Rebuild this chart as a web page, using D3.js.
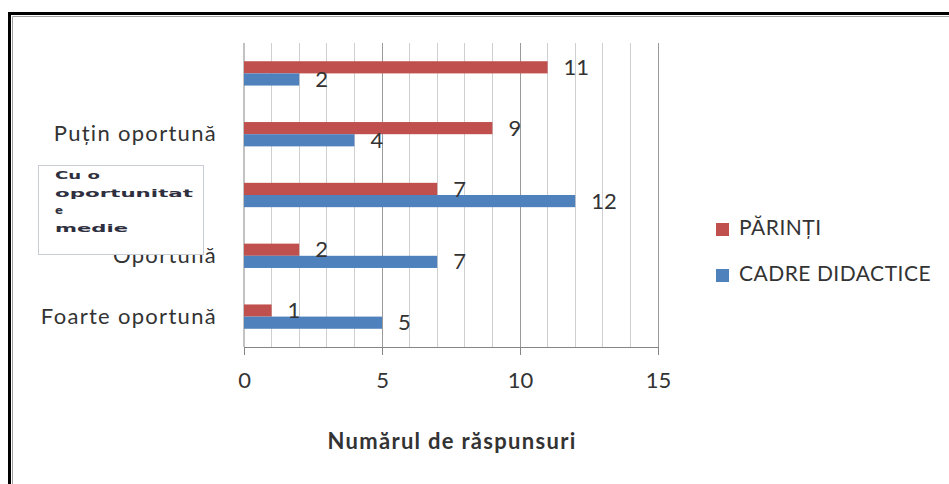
<!DOCTYPE html>
<html><head><meta charset="utf-8">
<script src="https://cdn.jsdelivr.net/npm/d3@7"></script>
<style>
html,body{margin:0;padding:0;background:#fff;}
svg{display:block;}
</style></head>
<body>
<svg id="chart" width="949" height="484"></svg>
<script>
const categories = ["Foarte oportună", "Oportună", "Cu o oportunitate medie", "Puțin oportună", ""];
const parinti = [1, 2, 7, 9, 11];
const cadre = [5, 7, 12, 4, 2];
const seriesNames = ["PĂRINȚI", "CADRE DIDACTICE"];
const xTicks = [0, 5, 10, 15];
const boxLines = ["Cu o", "oportunitat", "e", "medie"];
const boxLineWidths = [45, 138, 8, 73];

(function () {
const colors = ["#C0504D", "#4F81BD"];
const svg = d3.select("#chart");
const font = "Lato, 'Open Sans', sans-serif";
const txt = "#333333";

// frame
svg.append("rect").attr("x", 9.5).attr("y", 13.5).attr("width", 1000).attr("height", 600)
  .attr("fill", "#fff").attr("stroke", "#000").attr("stroke-width", 3);
svg.append("path").attr("d", "M12.5,600 V16.5 H1000").attr("fill", "none").attr("stroke", "#a0a0a0").attr("stroke-width", 1);

const pL = 244, pR = 658, pT = 43, pB = 347;
const x = d3.scaleLinear().domain([0, 15]).range([pL, pR]);
const idx = d3.range(categories.length);
const y = d3.scaleBand().domain(idx.slice().reverse()).range([pT, pB]).paddingInner(0.6).paddingOuter(0.3);
const sub = d3.scaleBand().domain([0, 1]).range([0, y.bandwidth()]);

// gridlines
svg.append("g").selectAll("line").data(d3.range(1, 16)).join("line")
  .attr("x1", d => x(d)).attr("x2", d => x(d)).attr("y1", pT).attr("y2", pB)
  .attr("stroke", d => d % 5 === 0 ? "#9a9a9a" : "#cfcfcf").attr("stroke-width", 1)
  .attr("shape-rendering", "crispEdges");

// x axis
const xAxis = d3.axisBottom(x).tickValues(xTicks).tickSize(8).tickPadding(17);
const xa = svg.append("g").attr("transform", `translate(0,${pB})`).call(xAxis);
xa.select(".domain").attr("stroke", "#868686");
xa.selectAll(".tick line").attr("stroke", "#868686");
xa.selectAll(".tick text").attr("font-family", font).attr("font-size", 22).attr("fill", txt);

// y axis
const yAxis = d3.axisLeft(y).tickSize(0).tickPadding(27).tickFormat(i => i === 2 ? "" : categories[i]);
const ya = svg.append("g").attr("transform", `translate(${pL},0)`).call(yAxis);
ya.select(".domain").attr("stroke", "#868686").attr("d", `M0,${pT}V${pB}`);
ya.selectAll(".tick text").attr("font-family", font).attr("font-size", 22)
  .attr("letter-spacing", 1.3).attr("fill", txt);

// bars
const data = idx.map(i => ({ i, vals: [parinti[i], cadre[i]] }));
const groups = svg.append("g").selectAll("g").data(data).join("g")
  .attr("transform", d => `translate(0,${y(d.i)})`);
groups.selectAll("rect").data(d => d.vals.map((v, s) => ({ v, s }))).join("rect")
  .attr("x", x(0)).attr("y", d => sub(d.s)).attr("width", d => x(d.v) - x(0)).attr("height", sub.bandwidth())
  .attr("fill", d => colors[d.s]);
groups.selectAll("text").data(d => d.vals.map((v, s) => ({ v, s }))).join("text")
  .attr("x", d => x(d.v) + 16).attr("y", d => sub(d.s) + sub.bandwidth() / 2 + 2)
  .attr("dominant-baseline", "middle")
  .attr("font-family", font).attr("font-size", 22).attr("fill", txt)
  .text(d => d.v);

// overlay text box
const box = svg.append("g");
box.append("rect").attr("x", 38.5).attr("y", 165.5).attr("width", 165).attr("height", 89)
  .attr("fill", "#fff").attr("stroke", "#c8ccd4").attr("stroke-width", 1);
box.selectAll("text").data(boxLines).join("text")
  .attr("x", 55).attr("y", (d, k) => 179 + k * 17.5)
  .attr("font-family", "'DejaVu Sans', sans-serif").attr("font-weight", "bold").attr("font-size", 11)
  .attr("fill", "#2e3040")
  .attr("textLength", (d, k) => boxLineWidths[k]).attr("lengthAdjust", "spacingAndGlyphs")
  .text(d => d);

// legend
const legend = svg.append("g");
const ly = [229, 275];
seriesNames.forEach((n, s) => {
  legend.append("rect").attr("x", 716).attr("y", ly[s] - 6).attr("width", 13).attr("height", 13).attr("fill", colors[s]);
  legend.append("text").attr("x", 739).attr("y", ly[s] + 1).attr("dominant-baseline", "middle")
    .attr("font-family", font).attr("font-size", 21).attr("letter-spacing", 0.5).attr("fill", txt).text(n);
});

// axis title
svg.append("text").attr("x", (pL + pR) / 2 + 1).attr("y", 443).attr("text-anchor", "middle")
  .attr("dominant-baseline", "middle").attr("font-family", font).attr("font-weight", "bold")
  .attr("font-size", 22).attr("letter-spacing", 1.3).attr("fill", txt).text("Numărul de răspunsuri");
})();
</script>
</body></html>
